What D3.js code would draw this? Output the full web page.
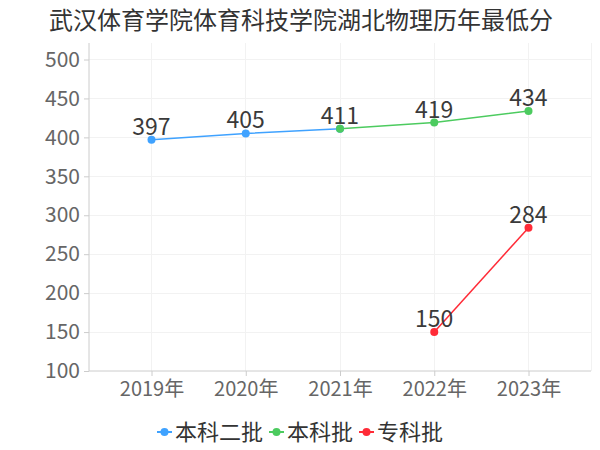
<!DOCTYPE html>
<html><head><meta charset="utf-8">
<script src="https://cdn.jsdelivr.net/npm/d3@7"></script>
<style>body{margin:0;background:#fff}svg{display:block;font-family:"Noto Sans CJK SC","Noto Sans",sans-serif}</style>
</head><body><svg id="c" width="600" height="450"></svg>
<script>
const title = "武汉体育学院体育科技学院湖北物理历年最低分";
const years = ["2019年","2020年","2021年","2022年","2023年"];
const yTicks = [100,150,200,250,300,350,400,450,500];
const seriesNames = ["本科二批","本科批","专科批"];
const seriesColors = ["#3fa2ff","#4ccb5f","#ff2b37"];
const erpi = [397,405,411,null,null];
const benke = [null,null,411,419,434];
const zhuanke = [null,null,null,150,284];
const seriesValues = [erpi, benke, zhuanke];

const svg = d3.select("#c");
const L=89, R=591, T=43, B=371;
const x = d3.scalePoint().domain(years).range([151.5,528.5]);
const y = d3.scaleLinear().domain([100,500]).range([B,59.5]);

svg.append("text").attr("x",301).attr("y",29).attr("text-anchor","middle")
  .attr("font-size",24).attr("fill","#333").text(title);

// grid
const g = svg.append("g");
g.selectAll(".hg").data(yTicks.slice(1)).join("line")
  .attr("x1",L).attr("x2",R).attr("y1",d=>y(d)).attr("y2",d=>y(d))
  .attr("stroke","#f2f2f2").attr("stroke-width",1).attr("shape-rendering","crispEdges");
g.selectAll(".vg").data(years).join("line")
  .attr("x1",d=>x(d)).attr("x2",d=>x(d)).attr("y1",T).attr("y2",B)
  .attr("stroke","#f2f2f2").attr("shape-rendering","crispEdges");
g.append("line").attr("x1",R).attr("x2",R).attr("y1",T).attr("y2",B)
  .attr("stroke","#f2f2f2").attr("shape-rendering","crispEdges");

// axes
const ya = svg.append("g").attr("transform",`translate(${L},0)`)
  .call(d3.axisLeft(y).tickValues(yTicks).tickSize(5).tickPadding(4));
ya.select(".domain").attr("d",`M0,${T}V${B}`).attr("stroke","#ccc");
ya.selectAll(".tick line").attr("stroke","#ccc");
ya.selectAll(".tick text").attr("font-size",21).attr("fill","#666")
  .attr("font-family",'"Noto Sans CJK SC",sans-serif');

const xa = svg.append("g").attr("transform",`translate(0,${B})`)
  .call(d3.axisBottom(x).tickSize(5).tickPadding(6));
xa.select(".domain").attr("d",`M${L},0H${R}`).attr("stroke","#ccc");
xa.selectAll(".tick line").attr("stroke","#ccc");
xa.selectAll(".tick text").attr("font-size",20).attr("fill","#666")
  .attr("font-family",'"Noto Sans CJK SC",sans-serif');

// series
const labelled = new Set();
seriesValues.forEach((vals,i)=>{
  const pts = years.map((yr,j)=>({yr, v:vals[j]})).filter(d=>d.v!=null);
  const line = d3.line().x(d=>x(d.yr)).y(d=>y(d.v));
  svg.append("path").datum(pts).attr("d",line).attr("fill","none")
    .attr("stroke",seriesColors[i]).attr("stroke-width",1.5);
  svg.selectAll(null).data(pts).join("circle")
    .attr("cx",d=>x(d.yr)).attr("cy",d=>y(d.v)).attr("r",4).attr("fill",seriesColors[i]);
  const lp = pts.filter(d=>{const k=d.yr+"|"+d.v; if(labelled.has(k)) return false; labelled.add(k); return true;});
  svg.selectAll(null).data(lp).join("text")
    .attr("x",d=>x(d.yr)).attr("y",d=>y(d.v)-5).attr("text-anchor","middle")
    .attr("font-size",23).attr("fill","#3a3a3a").text(d=>d.v);
});

// legend
const lg = svg.append("g");
let cx = 0;
seriesNames.forEach((n,i)=>{
  const it = lg.append("g");
  it.append("line").attr("x1",0).attr("x2",15).attr("y1",0).attr("y2",0)
    .attr("stroke",seriesColors[i]).attr("stroke-width",2);
  it.append("circle").attr("cx",7.5).attr("cy",0).attr("r",4).attr("fill",seriesColors[i]);
  const t = it.append("text").attr("x",18).attr("y",8).attr("font-size",22).attr("fill","#333").text(n);
  const w = 18 + t.node().getComputedTextLength();
  it.attr("transform",`translate(${cx},432)`);
  cx += w + 6;
});
const total = cx - 6;
lg.attr("transform",`translate(${300-total/2},0)`);
</script></body></html>
